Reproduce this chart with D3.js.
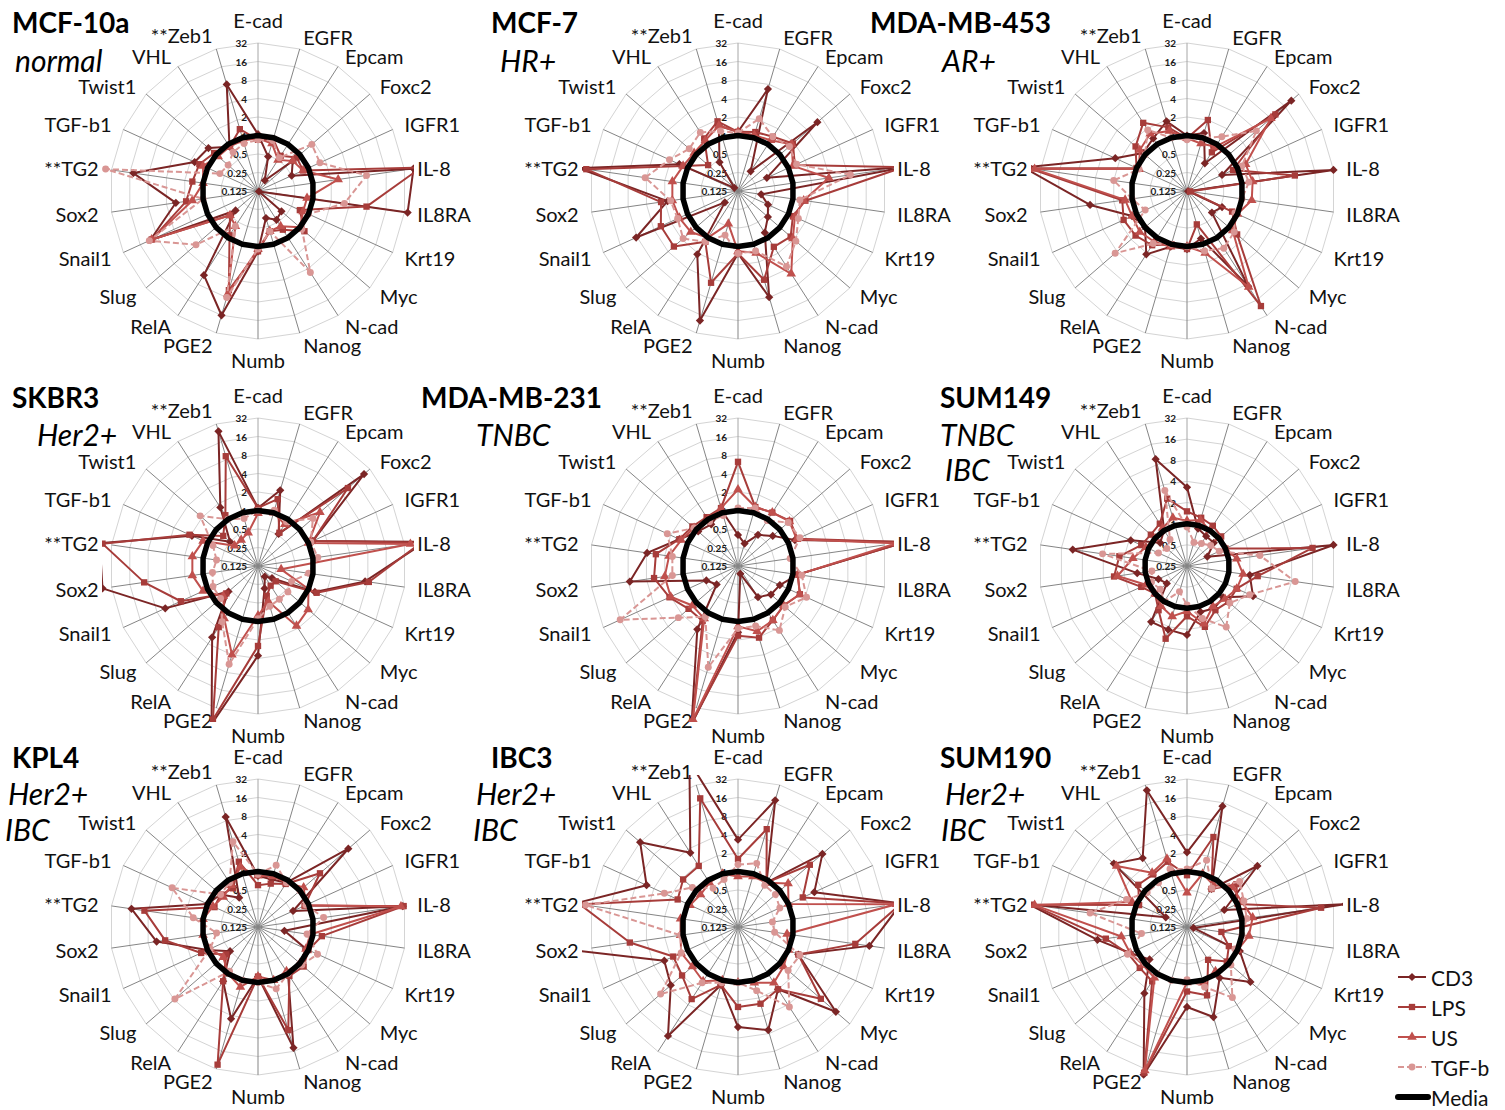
<!DOCTYPE html>
<html>
<head>
<meta charset="utf-8">
<script src="https://cdn.jsdelivr.net/npm/d3@7"></script>
<style>
  body { margin: 0; background: #fff; }
  svg { display: block; }
  text { font-family: Lato, "Open Sans", "Noto Sans", sans-serif; }
</style>
</head>
<body>
<svg id="chart" width="1505" height="1110"></svg>
<script>
// Gene axes, clockwise from the top
const axes = ["E-cad", "EGFR", "Epcam", "Foxc2", "IGFR1", "IL-8", "IL8RA", "Krt19", "Myc", "N-cad",
  "Nanog", "Numb", "PGE2", "RelA", "Slug", "Snail1", "Sox2", "**TG2", "TGF-b1", "Twist1", "VHL", "**Zeb1"];

const seriesNames = ["CD3", "LPS", "US", "TGF-b"];
const ringTicks = [0.125, 0.25, 0.5, 1, 2, 4, 8, 16, 32];
const mediaValues = [1, 1, 1, 1, 1, 1, 1, 1, 1, 1, 1, 1, 1, 1, 1, 1, 1, 1, 1, 1, 1, 1];

// Fold change relative to media, one array per cell line and treatment
const mcf10aCD3 = [1.05, 0.48, 0.2, 0.7, 0.5, 45, 36, 0.13, 0.4, 0.45, 0.36, 1.2, 16, 5.3, 0.38, 10.6, 2.8, 14, 1.7, 1.46, 0.9, 8];
const mcf10aLPS = [0.85, 0.95, 0.6, 0.85, 0.8, 60, 7.6, 0.7, 1.25, 0.7, 0.6, 1.2, 6, 0.9, 0.5, 10, 1.9, 1.5, 1.4, 1.1, 0.9, 1.4];
const mcf10aUS = [0.9, 0.8, 0.5, 0.7, 0.8, 2.6, 0.8, 0.8, 1.0, 0.6, 0.6, 1.1, 7, 0.6, 0.5, 10, 1.5, 1.0, 1.2, 0.9, 0.9, 0.9];
const mcf10aTGFb = [0.85, 0.9, 0.55, 1.8, 1.6, 7.6, 3.3, 1.0, 1.1, 4.7, 0.6, 1.1, 8, 0.6, 2.7, 11, 1.0, 40, 0.6, 0.55, 0.7, 0.8];

const mcf7CD3 = [1.15, 6.7, 0.3, 6.4, 0.41, 80, 0.3, 0.43, 0.55, 0.8, 7.9, 1.3, 19.7, 2.1, 0.24, 8.3, 1.8, 53, 1.4, 0.15, 0.45, 1.6];
const mcf7LPS = [1.15, 1.25, 1.4, 1.9, 1.3, 64, 1.6, 1.2, 1.7, 1.5, 4.0, 1.3, 4.5, 1.2, 3.0, 3.0, 2.3, 39, 1.2, 0.55, 1.3, 1.9];
const mcf7US = [1.15, 1.1, 1.2, 1.8, 1.2, 3.9, 1.5, 1.3, 1.9, 5.0, 1.4, 1.2, 0.45, 1.0, 1.3, 1.4, 1.5, 1.5, 1.2, 1.1, 1.2, 1.6];
const mcf7TGFb = [1.1, 2.1, 1.4, 1.6, 1.4, 8.8, 1.3, 1.5, 2.2, 3.6, 1.3, 1.3, 0.7, 1.2, 1.9, 1.5, 1.6, 4.2, 2.1, 1.4, 1.7, 1.3];

const mda453CD3 = [1.0, 1.2, 0.43, 22, 0.53, 32, 0.13, 0.53, 0.43, 8.7, 0.8, 1.1, 1.1, 2.1, 1.0, 1.2, 4.9, 60, 2.4, 1.1, 1.3, 1.9];
const mda453LPS = [0.9, 2.0, 0.7, 10, 0.83, 7.4, 0.14, 0.8, 1.5, 21, 0.46, 1.1, 1.0, 1.4, 1.6, 1.7, 1.45, 50, 1.0, 1.6, 2.6, 1.5];
const mda453US = [0.9, 0.8, 0.9, 8, 1.4, 1.5, 1.45, 1.0, 1.2, 9, 1.4, 1.0, 1.1, 1.2, 1.3, 1.2, 1.3, 40, 0.9, 1.3, 1.6, 1.3];
const mda453TGFb = [0.85, 1.0, 1.4, 3.9, 1.2, 1.3, 1.0, 0.9, 1.3, 1.6, 1.3, 1.0, 1.0, 1.3, 4.4, 0.7, 1.0, 2.0, 0.9, 1.0, 1.9, 1.0];

const skbr3CD3 = [1.1, 2.4, 0.52, 24, 1.2, 70, 7.2, 1.3, 0.25, 0.2, 0.3, 3.6, 60, 3.0, 0.54, 5.7, 45, 50, 1.9, 0.5, 1.7, 24];
const skbr3LPS = [1.1, 1.7, 0.55, 10.8, 1.2, 60, 8.3, 1.4, 0.3, 0.3, 0.4, 2.5, 50, 1.9, 0.6, 3.0, 9.3, 45, 2.1, 0.7, 1.2, 9.1];
const skbr3US = [0.9, 1.0, 0.8, 2.7, 1.0, 40, 0.3, 1.0, 1.5, 1.8, 0.5, 0.8, 4, 1.3, 0.7, 1.2, 1.5, 1.5, 1.2, 0.4, 0.4, 0.46];
const skbr3TGFb = [1.0, 1.1, 0.9, 1.9, 1.1, 1.2, 0.85, 0.5, 0.55, 0.55, 0.6, 0.9, 5.8, 1.5, 0.8, 0.8, 0.7, 0.6, 0.8, 2.2, 1.0, 0.8];

const mda231CD3 = [0.4, 0.3, 0.5, 0.7, 1.3, 70, 1.2, 0.7, 0.64, 0.5, 0.17, 1.5, 60, 2.1, 0.36, 0.46, 7.5, 3.9, 1.4, 0.9, 0.8, 1.1];
const mda231LPS = [6.2, 1.25, 1.35, 1.65, 1.45, 70, 1.2, 1.6, 1.2, 1.4, 2.05, 1.7, 55, 1.45, 1.45, 2.1, 3.0, 2.8, 1.4, 1.2, 1.1, 1.2];
const mda231US = [2.2, 1.25, 1.35, 1.6, 1.4, 50, 1.2, 1.6, 1.2, 1.4, 1.6, 1.2, 50, 1.3, 1.2, 2.0, 2.0, 1.7, 1.3, 1.1, 1.0, 1.2];
const mda231TGFb = [1.1, 1.2, 0.95, 1.5, 1.6, 0.9, 1.4, 2.1, 1.3, 2.2, 1.3, 1.3, 6.5, 1.2, 2.4, 16, 1.5, 1.5, 2.3, 1.1, 0.9, 0.9];

const sum149CD3 = [3.3, 0.9, 0.8, 0.8, 0.52, 32, 2.0, 2.7, 1.2, 1.3, 1.2, 2.4, 2.2, 2.2, 0.6, 0.7, 1.3, 11, 1.9, 0.8, 1.0, 9.6];
const sum149LPS = [1.5, 1.3, 1.2, 1.1, 1.0, 16, 2.6, 1.5, 1.5, 1.4, 2.0, 1.3, 3.0, 1.4, 1.0, 1.3, 2.8, 2.35, 1.3, 1.2, 1.3, 2.5];
const sum149US = [1.1, 1.2, 1.0, 1.0, 1.0, 1.3, 1.6, 1.5, 1.3, 1.2, 1.8, 1.1, 1.4, 1.2, 1.0, 1.1, 2.5, 1.5, 1.1, 1.0, 1.1, 1.3];
const sum149TGFb = [0.9, 0.56, 0.6, 0.7, 0.8, 2.8, 9, 2.4, 1.6, 2.7, 1.5, 0.9, 0.6, 1.0, 0.8, 0.9, 0.8, 4.1, 0.7, 0.6, 0.7, 3.3];

const kpl4CD3 = [0.85, 0.8, 0.9, 11, 0.53, 30, 0.34, 0.9, 1.0, 1.0, 14, 0.8, 4.5, 1.4, 0.5, 1.0, 5.8, 15, 1.0, 0.8, 0.46, 9.2];
const kpl4LPS = [0.6, 0.68, 0.85, 2.7, 0.85, 31, 1.4, 1.0, 1.2, 1.1, 7, 0.8, 27, 1.4, 0.6, 1.3, 4.2, 9.2, 0.75, 0.8, 0.7, 1.6];
const kpl4US = [0.85, 0.9, 0.9, 1.2, 0.9, 28, 0.9, 0.9, 1.0, 0.9, 1.0, 0.8, 1.3, 1.0, 0.7, 0.9, 1.0, 1.0, 0.8, 0.7, 0.8, 1.3];
const kpl4TGFb = [0.9, 1.4, 0.9, 1.0, 0.9, 1.5, 0.8, 1.45, 1.1, 1.0, 1.4, 1.0, 1.0, 0.9, 7.7, 0.9, 0.6, 1.45, 4.3, 0.8, 0.9, 3.5];

const ibc3CD3 = [3.3, 17.6, 0.9, 8.2, 2.9, 60, 18, 1.5, 16, 2.0, 7, 5.3, 1.2, 16, 3.5, 2.6, 60, 60, 5.4, 16, 3.4, 80];
const ibc3LPS = [1.6, 5.7, 0.9, 4.4, 1.8, 60, 10.6, 1.5, 7.6, 2.0, 2.5, 2.5, 1.2, 3.1, 2.0, 1.8, 7.5, 50, 1.5, 1.9, 1.9, 19];
const ibc3US = [0.83, 0.9, 0.9, 1.5, 1.0, 50, 0.8, 1.0, 1.2, 1.5, 1.1, 1.0, 1.0, 1.4, 1.2, 1.3, 1.1, 1.1, 0.9, 0.8, 0.9, 1.0];
const ibc3TGFb = [1.3, 1.5, 0.8, 0.8, 0.7, 0.46, 0.5, 1.6, 1.5, 4.4, 1.5, 1.0, 1.1, 1.5, 5.8, 1.3, 1.1, 40, 2.6, 1.2, 0.7, 0.8];

const sum190CD3 = [2.05, 14, 0.68, 4.1, 0.58, 50, 0.16, 1.1, 2.9, 1.2, 4.2, 2.5, 40, 2.4, 0.8, 1.3, 3.7, 50, 0.3, 4.7, 2.7, 26];
const sum190LPS = [0.87, 4.2, 0.68, 1.45, 1.0, 20, 0.46, 0.7, 0.9, 0.54, 1.8, 1.4, 37, 1.4, 1.3, 1.4, 2.7, 45, 0.9, 1.4, 1.3, 1.6];
const sum190US = [0.45, 1.0, 0.8, 1.2, 1.2, 1.5, 1.3, 1.0, 1.0, 0.9, 1.1, 1.0, 34, 1.2, 1.1, 1.3, 1.5, 40, 1.2, 4.1, 1.4, 1.8];
const sum190TGFb = [1.1, 1.7, 0.7, 1.7, 1.3, 1.2, 1.0, 0.9, 1.1, 2.9, 1.3, 0.9, 1.0, 1.0, 1.0, 1.45, 0.7, 4.9, 1.5, 0.9, 0.9, 1.2];

const cellLines = ["MCF-10a", "MCF-7", "MDA-MB-453", "SKBR3", "MDA-MB-231", "SUM149", "KPL4", "IBC3", "SUM190"];
const subtypes = [["normal"], ["HR+"], ["AR+"], ["Her2+"], ["TNBC"], ["TNBC", "IBC"], ["Her2+", "IBC"], ["Her2+", "IBC"], ["Her2+", "IBC"]];
const axisMins = [0.125, 0.125, 0.125, 0.125, 0.125, 0.25, 0.125, 0.125, 0.125];
const panelData = [
  [mcf10aCD3, mcf10aLPS, mcf10aUS, mcf10aTGFb],
  [mcf7CD3, mcf7LPS, mcf7US, mcf7TGFb],
  [mda453CD3, mda453LPS, mda453US, mda453TGFb],
  [skbr3CD3, skbr3LPS, skbr3US, skbr3TGFb],
  [mda231CD3, mda231LPS, mda231US, mda231TGFb],
  [sum149CD3, sum149LPS, sum149US, sum149TGFb],
  [kpl4CD3, kpl4LPS, kpl4US, kpl4TGFb],
  [ibc3CD3, ibc3LPS, ibc3US, ibc3TGFb],
  [sum190CD3, sum190LPS, sum190US, sum190TGFb]
];

// Panel placement: radar centre and title / subtitle positions
const layout = [
  { cx: 258, cy: 191, tx: 12, ty: 33, sub: [[15, 72]] },
  { cx: 738, cy: 191, tx: 491, ty: 33, sub: [[500, 72]] },
  { cx: 1187, cy: 191, tx: 870, ty: 33, sub: [[942, 72]] },
  { cx: 258, cy: 566, tx: 12, ty: 408, sub: [[37, 446]] },
  { cx: 738, cy: 566, tx: 421, ty: 408, sub: [[476, 446]] },
  { cx: 1187, cy: 566, tx: 940, ty: 408, sub: [[940, 446], [945, 481]] },
  { cx: 258, cy: 927, tx: 12, ty: 768, sub: [[8, 805], [5, 841]] },
  { cx: 738, cy: 927, tx: 491, ty: 768, sub: [[476, 805], [473, 841]] },
  { cx: 1187, cy: 927, tx: 940, ty: 768, sub: [[945, 805], [941, 841]] }
];

const styles = [
  { color: "#7b2525", dash: null, symbol: "diamond" },
  { color: "#a73c3a", dash: null, symbol: "square" },
  { color: "#c0504d", dash: null, symbol: "triangle" },
  { color: "#d99694", dash: "6,3", symbol: "circle" }
];

const svg = d3.select("#chart");
const defs = svg.append("defs");
const R = 148;
const N = axes.length;
const ang = i => i * 2 * Math.PI / N;

function symbolPath(kind) {
  if (kind === "diamond") return d3.symbol(d3.symbolSquare, 34)();
  if (kind === "square") return d3.symbol(d3.symbolSquare, 40)();
  if (kind === "triangle") return d3.symbol(d3.symbolTriangle, 40)();
  return d3.symbol(d3.symbolCircle, 38)();
}

panelData.forEach((series, k) => {
  const L = layout[k];
  const r = d3.scaleLog().base(2).domain([axisMins[k], 32]).range([0, R]);
  const ticks = ringTicks.filter(t => t >= axisMins[k]);
  const g = svg.append("g").attr("transform", `translate(${L.cx},${L.cy})`);

  // gridline rings
  const ring = d3.lineRadial().angle((d, i) => ang(i)).curve(d3.curveLinearClosed);
  ticks.slice(1).forEach(t => {
    g.append("path")
      .attr("d", ring.radius(r(t))(axes))
      .attr("fill", "none").attr("stroke", "#d4d4d4").attr("stroke-width", 1);
  });

  // spokes
  g.selectAll("line.spoke").data(axes).join("line")
    .attr("class", "spoke")
    .attr("x1", 0).attr("y1", 0)
    .attr("x2", (d, i) => R * Math.sin(ang(i)))
    .attr("y2", (d, i) => -R * Math.cos(ang(i)))
    .attr("stroke", (d, i) => i === 0 ? "#a6a6a6" : "#858585").attr("stroke-width", 1);

  // value labels along the first axis
  g.selectAll("text.tick").data(ticks).join("text")
    .attr("class", "tick")
    .attr("x", -11).attr("y", d => -r(d))
    .attr("text-anchor", "end").attr("dominant-baseline", "central")
    .attr("font-size", 10).attr("font-weight", 700).attr("fill", "#1a1a1a")
    .text(d => d);

  // category labels
  g.selectAll("text.cat").data(axes).join("text")
    .attr("class", "cat")
    .attr("x", (d, i) => 161 * Math.sin(ang(i)))
    .attr("y", (d, i) => {
      const s = Math.sin(ang(i)), c = Math.cos(ang(i));
      if (Math.abs(s) < 0.05) return c > 0 ? -171 : 169;
      if (i === N - 1) return -163 * c;
      return -161 * c;
    })
    .attr("text-anchor", (d, i) => {
      const s = Math.sin(ang(i));
      return s > 0.05 ? "start" : (s < -0.05 ? "end" : "middle");
    })
    .attr("dominant-baseline", "central")
    .attr("font-size", 20).attr("fill", "#111")
    .text(d => d);

  // series, clipped to the plot area
  const clipId = "clip" + k;
  defs.append("clipPath").attr("id", clipId)
    .append("rect").attr("x", L.cx - 156).attr("y", L.cy - 152).attr("width", 312).attr("height", 308);
  const plot = svg.append("g").attr("clip-path", `url(#${clipId})`)
    .append("g").attr("transform", `translate(${L.cx},${L.cy})`);

  const line = d3.lineRadial().angle((d, i) => ang(i)).radius(d => r(d)).curve(d3.curveLinearClosed);
  series.forEach((vals, s) => {
    const st = styles[s];
    const sg = plot.append("g").attr("class", "series-" + seriesNames[s]);
    sg.append("path").attr("d", line(vals))
      .attr("fill", "none").attr("stroke", st.color).attr("stroke-width", 2)
      .attr("stroke-dasharray", st.dash).attr("stroke-linejoin", "round");
    sg.selectAll("path.mk").data(vals).join("path")
      .attr("class", "mk")
      .attr("d", symbolPath(st.symbol))
      .attr("transform", (d, i) => {
        const x = r(d) * Math.sin(ang(i)), y = -r(d) * Math.cos(ang(i));
        return `translate(${x},${y})` + (st.symbol === "diamond" ? " rotate(45)" : "");
      })
      .attr("fill", st.color);
  });

  // media baseline
  plot.append("path").attr("d", line(mediaValues))
    .attr("fill", "none").attr("stroke", "#000").attr("stroke-width", 5.5)
    .attr("stroke-linejoin", "round");

  // titles
  svg.append("text").attr("x", L.tx).attr("y", L.ty)
    .attr("font-size", 28).attr("font-weight", 700).attr("fill", "#000")
    .text(cellLines[k]);
  subtypes[k].forEach((t, j) => {
    svg.append("text").attr("x", L.sub[j][0]).attr("y", L.sub[j][1])
      .attr("font-size", 30).attr("font-style", "italic").attr("fill", "#000")
      .text(t);
  });
});

// legend
const legendNames = ["CD3", "LPS", "US", "TGF-b", "Media"];
const lg = svg.append("g").attr("transform", "translate(1398,977)");
legendNames.forEach((name, i) => {
  const y = i * 30;
  const row = lg.append("g").attr("transform", `translate(0,${y})`);
  if (i < 4) {
    const st = styles[i];
    row.append("line").attr("x1", 0).attr("x2", 28).attr("y1", 0).attr("y2", 0)
      .attr("stroke", st.color).attr("stroke-width", 2).attr("stroke-dasharray", st.dash);
    row.append("path").attr("d", symbolPath(st.symbol))
      .attr("transform", `translate(14,0)` + (st.symbol === "diamond" ? " rotate(45)" : ""))
      .attr("fill", st.color);
  } else {
    row.append("line").attr("x1", 0).attr("x2", 30).attr("y1", 0).attr("y2", 0)
      .attr("stroke", "#000").attr("stroke-width", 6).attr("stroke-linecap", "round");
  }
  row.append("text").attr("x", 33).attr("y", 0).attr("dominant-baseline", "central")
    .attr("font-size", 21).attr("fill", "#111").text(name);
});
</script>
</body>
</html>
